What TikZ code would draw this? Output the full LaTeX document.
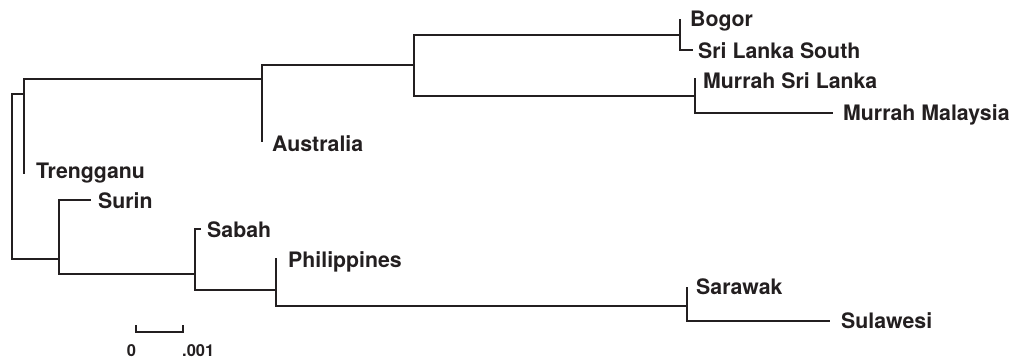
\documentclass[tikz,border=0pt]{standalone}
\usepackage{fontspec}
\setmainfont{TeX Gyre Heros}
\definecolor{ink}{RGB}{35,31,32}
\begin{document}
\begin{tikzpicture}[x=1pt,y=-1pt,
  br/.style={draw=ink,line width=2.2pt,line cap=rect},
  lab/.style={anchor=west,inner sep=0pt,text height=15.3pt,text depth=0pt,text=ink,
    font=\fontsize{21.3}{24}\bfseries\selectfont},
  scl/.style={inner sep=0pt,text height=11.5pt,text depth=0pt,text=ink,
    font=\fontsize{16.5}{18}\bfseries\selectfont}]
\useasboundingbox (0,0) rectangle (1020,362);
% internal nodes (x, join y)
\coordinate (root) at (12,177);
\coordinate (A) at (24,94);
\coordinate (B) at (262,79);
\coordinate (C) at (414,65);
\coordinate (D) at (680,35);
\coordinate (E) at (695,96);
\coordinate (F) at (59,259);
\coordinate (G) at (195,274);
\coordinate (H) at (276,290);
\coordinate (I) at (687,306);
% tips
\coordinate (bogor) at (680,20);
\coordinate (sls) at (692,50);
\coordinate (msl) at (695,79);
\coordinate (mm) at (832,113);
\coordinate (aus) at (262,141);
\coordinate (treng) at (24,173);
\coordinate (surin) at (90,200);
\coordinate (sabah) at (200,229);
\coordinate (phil) at (276,259);
\coordinate (sara) at (687,288);
\coordinate (sula) at (829,321);
% verticals
\draw[br] (root|-A) -- (root|-F);
\draw[br] (A|-B) -- (A|-treng);
\draw[br] (B|-C) -- (B|-aus);
\draw[br] (C|-D) -- (C|-E);
\draw[br] (D|-bogor) -- (D|-sls);
\draw[br] (E|-msl) -- (E|-mm);
\draw[br] (F|-surin) -- (F|-G);
\draw[br] (G|-sabah) -- (G|-H);
\draw[br] (H|-phil) -- (H|-I);
\draw[br] (I|-sara) -- (I|-sula);
% horizontals to internal nodes
\draw[br] (root|-A) -- (A);
\draw[br] (A|-B) -- (B);
\draw[br] (B|-C) -- (C);
\draw[br] (C|-D) -- (D);
\draw[br] (C|-E) -- (E);
\draw[br] (root|-F) -- (F);
\draw[br] (F|-G) -- (G);
\draw[br] (G|-H) -- (H);
\draw[br] (H|-I) -- (I);
% leaf horizontals
\draw[br] (D|-sls) -- (sls);
\draw[br] (E|-mm) -- (mm);
\draw[br] (F|-surin) -- (surin);
\draw[br] (G|-sabah) -- (sabah);
\draw[br] (I|-sula) -- (sula);
% labels
\node[lab] (lbogor) at (690,19) {Bogor};
\node[lab] (lsls) at (698,50.5) {Sri Lanka South};
\node[lab] (lmsl) at (703,81) {Murrah Sri Lanka};
\node[lab] (lmm) at (843,113) {Murrah Malaysia};
\node[lab] (laus) at (272,143.5) {Australia};
\node[lab] (ltreng) at (36,170.5) {Trengganu};
\node[lab] (lsurin) at (98,201) {Surin};
\node[lab] (lsabah) at (207,230) {Sabah};
\node[lab] (lphil) at (288,260) {Philippines};
\node[lab] (lsara) at (696,287) {Sarawak};
\node[lab] (lsula) at (841,321) {Sulawesi};
% scale bar
\coordinate (s0) at (136,332);
\coordinate (s1) at (183,332);
\draw[draw=ink,line width=1.6pt] ([yshift=7pt]s0) -- (s0) -- (s1) -- ([yshift=7pt]s1);
\node[scl,anchor=center] (lzero) at (131.5,351) {0};
\node[scl,anchor=west] (lunit) at (182,351) {.001};
\end{tikzpicture}
\end{document}
